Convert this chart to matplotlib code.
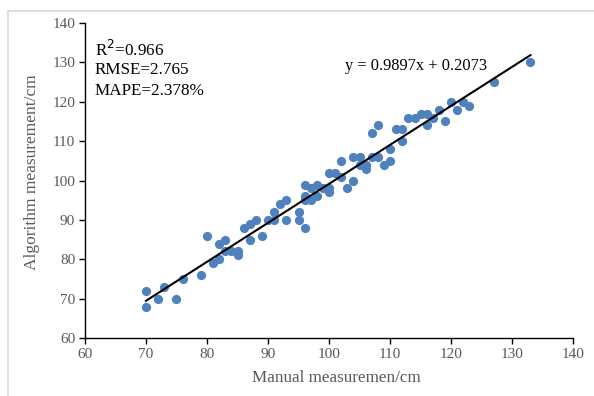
import matplotlib
matplotlib.use("Agg")
import matplotlib.pyplot as plt
from matplotlib.patches import Rectangle
import numpy as np

manual = [70, 70, 72, 73, 75, 76, 79, 80, 81, 82, 82, 83, 83, 84, 85, 85,
          86, 87, 87, 88, 89, 90, 91, 91, 92, 93, 93, 95, 95, 96, 96, 96,
          96, 97, 97, 98, 98, 99, 100, 100, 100, 101, 102, 102, 103, 104,
          104, 105, 105, 106, 106, 107, 107, 108, 108, 109, 110, 110, 111,
          112, 112, 113, 114, 115, 116, 116, 117, 118, 119, 120, 121, 122,
          123, 127, 133]
algorithm = [72, 68, 70, 73, 70, 75, 76, 86, 79, 80, 84, 85, 82, 82, 82, 81,
             88, 89, 85, 90, 86, 90, 92, 90, 94, 95, 90, 92, 90, 99, 96, 95,
             88, 98, 95, 99, 96, 98, 102, 98, 97, 102, 105, 101, 98, 106,
             100, 106, 104, 104, 103, 112, 106, 114, 106, 104, 108, 105, 113,
             113, 110, 116, 116, 117, 117, 114, 116, 118, 115, 120, 118, 120,
             119, 125, 130]

slope = 0.9897
intercept = 0.2073

plt.rcParams['font.family'] = ['Liberation Serif', 'DejaVu Serif']

fig = plt.figure(figsize=(5.94, 3.96), dpi=100)
ax = fig.add_axes([0.143, 0.146, 0.822, 0.796])

ax.scatter(manual, algorithm, s=44, color='#4F81BD', zorder=3, linewidths=0)
xl = np.array([min(manual), max(manual)])
ax.plot(xl, slope * xl + intercept, color='black', lw=1.5, zorder=4)

ax.set_xlim(60, 140)
ax.set_ylim(60, 140)
ax.set_xticks(range(60, 141, 10))
ax.set_yticks(range(60, 141, 10))
for s in ['top', 'right']:
    ax.spines[s].set_visible(False)
for s in ['left', 'bottom']:
    ax.spines[s].set_linewidth(1.0)
ax.tick_params(direction='out', length=4, width=1, labelsize=11,
               labelcolor='#595959', pad=3)

ax.set_xlabel('Manual measuremen/cm', fontsize=12.3, color='#595959')
ax.set_ylabel('Algorithm measurement/cm', fontsize=12.5, color='#595959')
ax.xaxis.set_label_coords(0.514, -0.10)
ax.yaxis.set_label_coords(-0.092, 0.527)

ax.text(0.02, 0.914, 'R$^2$=0.966', transform=ax.transAxes, fontsize=12.3,
        va='center')
ax.text(0.02, 0.851, 'RMSE=2.765', transform=ax.transAxes, fontsize=12.3,
        va='center')
ax.text(0.02, 0.784, 'MAPE=2.378%', transform=ax.transAxes, fontsize=12.3,
        va='center')
ax.text(0.533, 0.863, 'y = 0.9897x + 0.2073', transform=ax.transAxes,
        fontsize=11.8, va='center')

# light frame around the chart
fig.patches.append(Rectangle((8 / 594, -0.05), 1.2, 1 - 11 / 396 + 0.05,
                             transform=fig.transFigure, fill=False,
                             edgecolor='#d9d9d9', lw=1.2))

fig.savefig('out.png', dpi=100)
